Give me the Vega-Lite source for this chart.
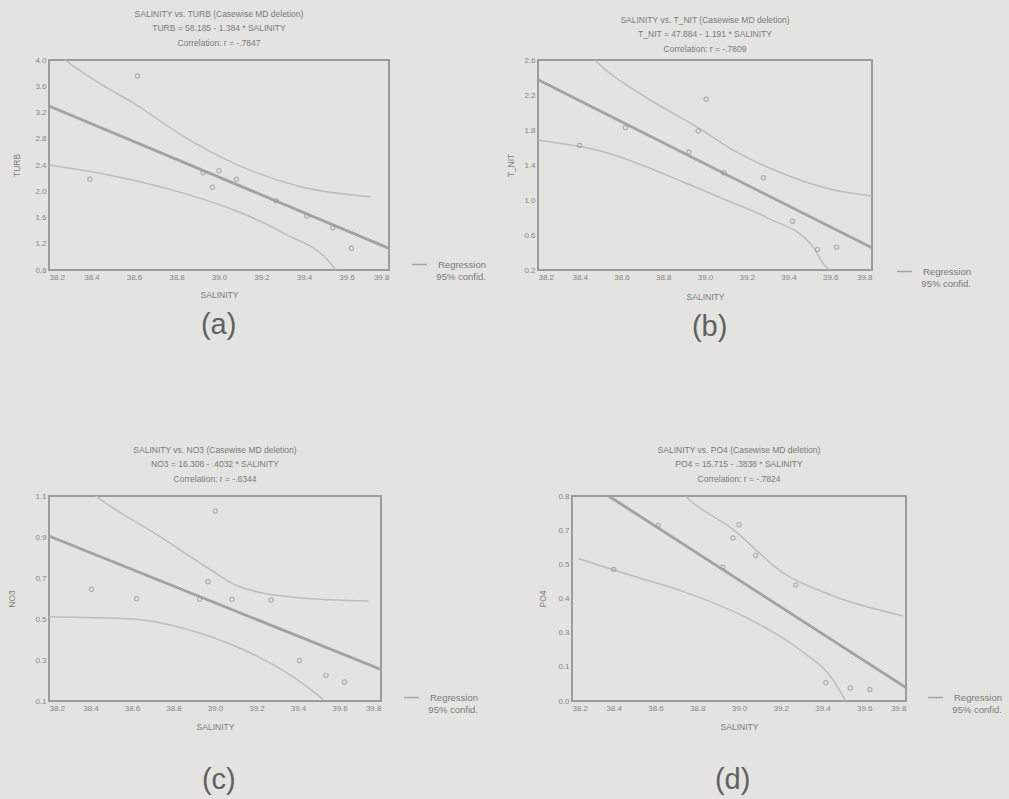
{
  "$schema": "https://vega.github.io/schema/vega-lite/v6.json",
  "background": "#e3e4e0",
  "padding": {"left": 6, "top": 8, "right": 30, "bottom": 12},
  "config": {
    "font": "Liberation Sans",
    "view": {"stroke": "#9c9c9c", "strokeWidth": 2},
    "axis": {
      "domain": false, "ticks": false, "grid": false,
      "labelFont": "Liberation Sans", "labelFontSize": 8, "labelColor": "#858585", "labelPadding": 3,
      "titleFont": "Liberation Sans", "titleFontSize": 8.5, "titleFontWeight": "normal", "titleColor": "#7a7a7a"
    },
    "title": {"font": "Liberation Sans", "fontSize": 8.5, "fontWeight": "normal", "color": "#7a7a7a", "lineHeight": 14.5, "offset": 9},
    "legend": {
      "orient": "none", "labelFont": "Liberation Sans", "labelFontSize": 9.5, "labelColor": "#7a7a7a",
      "titleFont": "Liberation Sans", "titleFontSize": 9.5, "titleFontWeight": "normal", "titleColor": "#7a7a7a",
      "titleOrient": "bottom", "titleAnchor": "end", "titlePadding": 3,
      "symbolType": "stroke", "symbolStrokeWidth": 1.5, "symbolSize": 220, "labelOffset": 10
    }
  },
  "datasets": {
    "a_obs": [
      {"sal": 38.393, "val": 2.182}, {"sal": 38.616, "val": 3.756}, {"sal": 38.925, "val": 2.283},
      {"sal": 38.969, "val": 2.06}, {"sal": 39.0, "val": 2.314}, {"sal": 39.082, "val": 2.182},
      {"sal": 39.268, "val": 1.857}, {"sal": 39.413, "val": 1.623}, {"sal": 39.535, "val": 1.445},
      {"sal": 39.623, "val": 1.13}
    ],
    "a_fit": [{"sal": 38.2, "val": 3.3, "series": "Regression"}, {"sal": 39.8, "val": 1.13, "series": "Regression"}],
    "a_band": [
      {"band": "upper", "sal": 38.2, "val": 4.2}, {"band": "upper", "sal": 38.286, "val": 3.975},
      {"band": "upper", "sal": 38.45, "val": 3.62}, {"band": "upper", "sal": 38.6, "val": 3.34},
      {"band": "upper", "sal": 38.835, "val": 2.832}, {"band": "upper", "sal": 39.071, "val": 2.425},
      {"band": "upper", "sal": 39.384, "val": 2.07}, {"band": "upper", "sal": 39.714, "val": 1.918},
      {"band": "lower", "sal": 38.2, "val": 2.4}, {"band": "lower", "sal": 38.522, "val": 2.222},
      {"band": "lower", "sal": 38.835, "val": 1.968}, {"band": "lower", "sal": 39.071, "val": 1.714},
      {"band": "lower", "sal": 39.306, "val": 1.359}, {"band": "lower", "sal": 39.525, "val": 0.9},
      {"band": "lower", "sal": 39.56, "val": 0.75}
    ],
    "b_obs": [
      {"sal": 38.4, "val": 1.624}, {"sal": 38.619, "val": 1.827}, {"sal": 38.923, "val": 1.546},
      {"sal": 38.968, "val": 1.788}, {"sal": 39.006, "val": 2.151}, {"sal": 39.091, "val": 1.312},
      {"sal": 39.28, "val": 1.254}, {"sal": 39.419, "val": 0.758}, {"sal": 39.539, "val": 0.434},
      {"sal": 39.63, "val": 0.461}
    ],
    "b_fit": [{"sal": 38.2, "val": 2.374, "series": "Regression"}, {"sal": 39.8, "val": 0.454, "series": "Regression"}],
    "b_band": [
      {"band": "upper", "sal": 38.4, "val": 2.8}, {"band": "upper", "sal": 38.49, "val": 2.56},
      {"band": "upper", "sal": 38.7, "val": 2.2}, {"band": "upper", "sal": 38.971, "val": 1.82},
      {"band": "upper", "sal": 39.15, "val": 1.55}, {"band": "upper", "sal": 39.323, "val": 1.351},
      {"band": "upper", "sal": 39.611, "val": 1.117}, {"band": "upper", "sal": 39.8, "val": 1.047},
      {"band": "lower", "sal": 38.2, "val": 1.683}, {"band": "lower", "sal": 38.5, "val": 1.56},
      {"band": "lower", "sal": 38.907, "val": 1.195}, {"band": "lower", "sal": 39.1, "val": 1.0},
      {"band": "lower", "sal": 39.291, "val": 0.805}, {"band": "lower", "sal": 39.515, "val": 0.473},
      {"band": "lower", "sal": 39.571, "val": 0.259}, {"band": "lower", "sal": 39.6, "val": 0.2}
    ],
    "c_obs": [
      {"sal": 38.405, "val": 0.645}, {"sal": 38.622, "val": 0.599}, {"sal": 38.926, "val": 0.596},
      {"sal": 38.966, "val": 0.682}, {"sal": 39.002, "val": 1.027}, {"sal": 39.082, "val": 0.596},
      {"sal": 39.271, "val": 0.593}, {"sal": 39.407, "val": 0.298}, {"sal": 39.535, "val": 0.225},
      {"sal": 39.624, "val": 0.193}
    ],
    "c_fit": [{"sal": 38.2, "val": 0.905, "series": "Regression"}, {"sal": 39.8, "val": 0.254, "series": "Regression"}],
    "c_band": [
      {"band": "upper", "sal": 38.4, "val": 1.12}, {"band": "upper", "sal": 38.47, "val": 1.068},
      {"band": "upper", "sal": 38.73, "val": 0.905}, {"band": "upper", "sal": 38.95, "val": 0.759},
      {"band": "upper", "sal": 39.11, "val": 0.661}, {"band": "upper", "sal": 39.4, "val": 0.604},
      {"band": "upper", "sal": 39.74, "val": 0.588},
      {"band": "lower", "sal": 38.2, "val": 0.511}, {"band": "lower", "sal": 38.6, "val": 0.5},
      {"band": "lower", "sal": 38.92, "val": 0.433}, {"band": "lower", "sal": 39.2, "val": 0.32},
      {"band": "lower", "sal": 39.44, "val": 0.173}, {"band": "lower", "sal": 39.52, "val": 0.108}
    ],
    "d_obs": [
      {"sal": 38.4, "val": 0.513}, {"sal": 38.613, "val": 0.685}, {"sal": 38.923, "val": 0.522},
      {"sal": 38.971, "val": 0.636}, {"sal": 39.0, "val": 0.688}, {"sal": 39.08, "val": 0.568},
      {"sal": 39.272, "val": 0.453}, {"sal": 39.416, "val": 0.072}, {"sal": 39.533, "val": 0.051},
      {"sal": 39.627, "val": 0.045}
    ],
    "d_fit": [{"sal": 38.2, "val": 0.892, "series": "Regression"}, {"sal": 39.8, "val": 0.052, "series": "Regression"}],
    "d_band": [
      {"band": "upper", "sal": 38.6, "val": 0.95}, {"band": "upper", "sal": 38.744, "val": 0.8},
      {"band": "upper", "sal": 38.968, "val": 0.672}, {"band": "upper", "sal": 39.208, "val": 0.502},
      {"band": "upper", "sal": 39.448, "val": 0.411}, {"band": "upper", "sal": 39.784, "val": 0.333},
      {"band": "lower", "sal": 38.232, "val": 0.555}, {"band": "lower", "sal": 38.488, "val": 0.489},
      {"band": "lower", "sal": 38.744, "val": 0.424}, {"band": "lower", "sal": 39.048, "val": 0.32},
      {"band": "lower", "sal": 39.288, "val": 0.202}, {"band": "lower", "sal": 39.448, "val": 0.085},
      {"band": "lower", "sal": 39.512, "val": 0.0}
    ]
  },
  "resolve": {"scale": {"x": "independent", "y": "independent", "color": "independent"}, "legend": {"color": "independent"}, "axis": {"x": "independent", "y": "independent"}},
  "spacing": 102,
  "vconcat": [
    {
      "resolve": {"scale": {"x": "independent", "y": "independent", "color": "independent"}, "legend": {"color": "independent"}, "axis": {"x": "independent", "y": "independent"}},
      "spacing": 17,
      "hconcat": [
        {
          "title": {"text": "(a)", "orient": "bottom", "fontSize": 29, "color": "#606060", "offset": 11, "anchor": "start", "dx": 189},
          "resolve": {"scale": {"x": "independent", "y": "independent", "color": "independent"}, "legend": {"color": "independent"}},
          "vconcat": [
            {
              "width": 340, "height": 210,
              "title": {"text": ["SALINITY vs.  TURB (Casewise MD deletion)", "TURB = 58.185 - 1.384 * SALINITY", "Correlation: r = -.7847"]},
              "encoding": {
                "x": {"field": "sal", "type": "quantitative", "scale": {"domain": [38.2, 39.8], "nice": false, "zero": false},
                      "axis": {"values": [38.2, 38.4, 38.6, 38.8, 39.0, 39.2, 39.4, 39.6, 39.8], "format": ".1f", "title": "SALINITY", "titlePadding": 9}},
                "y": {"field": "val", "type": "quantitative", "scale": {"domain": [0.8, 4.0], "nice": false, "zero": false},
                      "axis": {"values": [0.8, 1.2, 1.6, 2.0, 2.4, 2.8, 3.2, 3.6, 4.0], "format": ".1f", "title": "TURB", "titlePadding": 13}}
              },
              "layer": [
                {"data": {"name": "a_band"}, "mark": {"type": "line", "clip": true, "color": "#bdbdbd", "strokeWidth": 1.5, "interpolate": "monotone"}, "encoding": {"detail": {"field": "band"}}},
                {"data": {"name": "a_fit"}, "mark": {"type": "line", "clip": true, "strokeWidth": 2.8},
                 "encoding": {"color": {"field": "series", "type": "nominal", "scale": {"domain": ["Regression"], "range": ["#a2a2a2"]},
                              "legend": {"title": "95% confid.", "legendX": 362, "legendY": 196}}}},
                {"data": {"name": "a_obs"}, "mark": {"type": "point", "shape": "circle", "size": 18, "color": "#9a9a9a", "strokeWidth": 1.2}}
              ]
            }
          ]
        },
        {
          "title": {"text": "(b)", "orient": "bottom", "fontSize": 29, "color": "#606060", "offset": 11, "anchor": "start", "dx": 186},
          "resolve": {"scale": {"x": "independent", "y": "independent", "color": "independent"}, "legend": {"color": "independent"}},
          "vconcat": [
            {
              "width": 334, "height": 210,
              "title": {"text": ["SALINITY vs.  T_NIT (Casewise MD deletion)", "T_NIT = 47.884 - 1.191 * SALINITY", "Correlation: r = -.7809"], "dy": 6},
              "encoding": {
                "x": {"field": "sal", "type": "quantitative", "scale": {"domain": [38.2, 39.8], "nice": false, "zero": false},
                      "axis": {"values": [38.2, 38.4, 38.6, 38.8, 39.0, 39.2, 39.4, 39.6, 39.8], "format": ".1f", "title": "SALINITY", "titlePadding": 11}},
                "y": {"field": "val", "type": "quantitative", "scale": {"domain": [0.2, 2.6], "nice": false, "zero": false},
                      "axis": {"values": [0.2, 0.6, 1.0, 1.4, 1.8, 2.2, 2.6], "format": ".1f", "title": "T_NIT", "titlePadding": 8}}
              },
              "layer": [
                {"data": {"name": "b_band"}, "mark": {"type": "line", "clip": true, "color": "#bdbdbd", "strokeWidth": 1.5, "interpolate": "monotone"}, "encoding": {"detail": {"field": "band"}}},
                {"data": {"name": "b_fit"}, "mark": {"type": "line", "clip": true, "strokeWidth": 2.8},
                 "encoding": {"color": {"field": "series", "type": "nominal", "scale": {"domain": ["Regression"], "range": ["#a2a2a2"]},
                              "legend": {"title": "95% confid.", "legendX": 358, "legendY": 203}}}},
                {"data": {"name": "b_obs"}, "mark": {"type": "point", "shape": "circle", "size": 18, "color": "#9a9a9a", "strokeWidth": 1.2}}
              ]
            }
          ]
        }
      ]
    },
    {
      "resolve": {"scale": {"x": "independent", "y": "independent", "color": "independent"}, "legend": {"color": "independent"}, "axis": {"x": "independent", "y": "independent"}},
      "spacing": 57,
      "hconcat": [
        {
          "title": {"text": "(c)", "orient": "bottom", "fontSize": 29, "color": "#606060", "offset": 34, "anchor": "start", "dx": 195},
          "resolve": {"scale": {"x": "independent", "y": "independent", "color": "independent"}, "legend": {"color": "independent"}},
          "vconcat": [
            {
              "width": 332, "height": 205,
              "title": {"text": ["SALINITY vs.  NO3 (Casewise MD deletion)", "NO3 = 16.308 - .4032 * SALINITY", "Correlation: r = -.6344"]},
              "encoding": {
                "x": {"field": "sal", "type": "quantitative", "scale": {"domain": [38.2, 39.8], "nice": false, "zero": false},
                      "axis": {"values": [38.2, 38.4, 38.6, 38.8, 39.0, 39.2, 39.4, 39.6, 39.8], "format": ".1f", "title": "SALINITY", "titlePadding": 10}},
                "y": {"field": "val", "type": "quantitative", "scale": {"domain": [0.1, 1.1], "nice": false, "zero": false},
                      "axis": {"values": [0.1, 0.3, 0.5, 0.7, 0.9, 1.1], "format": ".1f", "title": "NO3", "titlePadding": 18}}
              },
              "layer": [
                {"data": {"name": "c_band"}, "mark": {"type": "line", "clip": true, "color": "#bdbdbd", "strokeWidth": 1.5, "interpolate": "monotone"}, "encoding": {"detail": {"field": "band"}}},
                {"data": {"name": "c_fit"}, "mark": {"type": "line", "clip": true, "strokeWidth": 2.8},
                 "encoding": {"color": {"field": "series", "type": "nominal", "scale": {"domain": ["Regression"], "range": ["#a2a2a2"]},
                              "legend": {"title": "95% confid.", "legendX": 354, "legendY": 193}}}},
                {"data": {"name": "c_obs"}, "mark": {"type": "point", "shape": "circle", "size": 18, "color": "#9a9a9a", "strokeWidth": 1.2}}
              ]
            }
          ]
        },
        {
          "title": {"text": "(d)", "orient": "bottom", "fontSize": 29, "color": "#606060", "offset": 34, "anchor": "start", "dx": 177},
          "resolve": {"scale": {"x": "independent", "y": "independent", "color": "independent"}, "legend": {"color": "independent"}},
          "vconcat": [
            {
              "width": 334, "height": 205,
              "title": {"text": ["SALINITY vs.  PO4 (Casewise MD deletion)", "PO4 = 15.715 - .3838 * SALINITY", "Correlation: r = -.7824"]},
              "encoding": {
                "x": {"field": "sal", "type": "quantitative", "scale": {"domain": [38.2, 39.8], "nice": false, "zero": false},
                      "axis": {"values": [38.2, 38.4, 38.6, 38.8, 39.0, 39.2, 39.4, 39.6, 39.8], "format": ".1f", "title": "SALINITY", "titlePadding": 10}},
                "y": {"field": "val", "type": "quantitative", "scale": {"domain": [0.0, 0.8], "nice": false, "zero": false},
                      "axis": {"values": [0.0, 0.1333, 0.2667, 0.4, 0.5333, 0.6667, 0.8], "format": ".1f", "title": "PO4", "titlePadding": 10}}
              },
              "layer": [
                {"data": {"name": "d_band"}, "mark": {"type": "line", "clip": true, "color": "#bdbdbd", "strokeWidth": 1.5, "interpolate": "monotone"}, "encoding": {"detail": {"field": "band"}}},
                {"data": {"name": "d_fit"}, "mark": {"type": "line", "clip": true, "strokeWidth": 2.8},
                 "encoding": {"color": {"field": "series", "type": "nominal", "scale": {"domain": ["Regression"], "range": ["#a2a2a2"]},
                              "legend": {"title": "95% confid.", "legendX": 355, "legendY": 193}}}},
                {"data": {"name": "d_obs"}, "mark": {"type": "point", "shape": "circle", "size": 18, "color": "#9a9a9a", "strokeWidth": 1.2}}
              ]
            }
          ]
        }
      ]
    }
  ]
}
